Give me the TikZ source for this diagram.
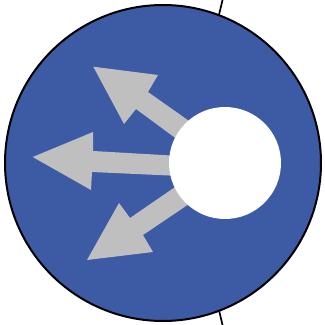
\documentclass[tikz,border=0pt]{standalone}
\definecolor{routerblue}{RGB}{61,90,164}
\definecolor{arrowgray}{RGB}{191,191,191}
\begin{document}
\begin{tikzpicture}[x=0.1cm,y=-0.1cm,
  arrowshape/.style={fill=arrowgray,draw=none},
  link/.style={draw=black,line width=0.15cm}]
\useasboundingbox (0,0) rectangle (325,325);
% links behind
\coordinate (t1) at (223,-2);
\coordinate (t2) at (213,40);
\coordinate (b1) at (223,327);
\coordinate (b2) at (213,285);
\draw[line width=0.17cm] (t1) -- (t2);
\draw[line width=0.17cm] (b1) -- (b2);
\node[circle,fill=routerblue,draw=black,line width=0.2cm,minimum size=31.6cm,inner sep=0pt] (router) at (163,163) {};
% arrows
\fill[arrowshape] (93.3,66.7) -- (158,75) -- (148,92) -- (192,123) -- (178,140) -- (136,109) -- (124,124) -- cycle;
\fill[arrowshape] (32.7,157) -- (93,132) -- (93,151) -- (180,156) -- (180,176) -- (92,172) -- (91,190) -- cycle;
\fill[arrowshape] (87,260) -- (119,203) -- (130,218) -- (178,185) -- (192,202) -- (143,235) -- (153,252) -- cycle;
\node[circle,fill=white,minimum size=11.2cm,inner sep=0pt] (hub) at (225,163) {};
\end{tikzpicture}
\end{document}
